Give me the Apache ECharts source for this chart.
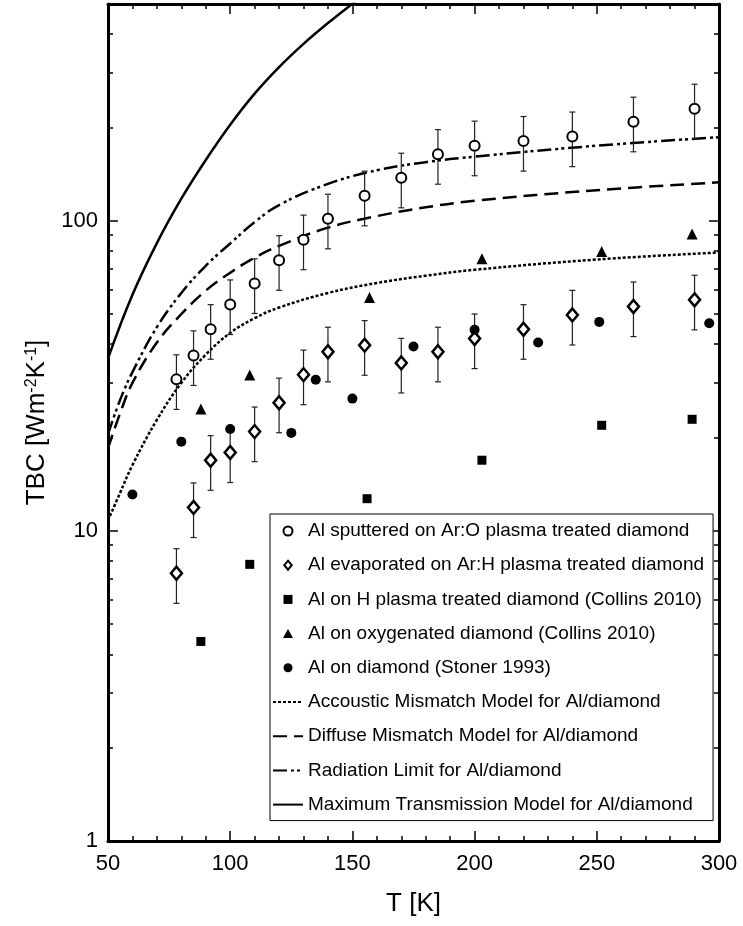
<!DOCTYPE html>
<html>
<head>
<meta charset="utf-8">
<script src="https://cdn.jsdelivr.net/npm/echarts@6/dist/echarts.min.js"></script>
<style>
  html, body { margin: 0; padding: 0; background: #fff; }
  #chart { width: 743px; height: 926px; }
</style>
</head>
<body>
<div id="chart"></div>
<script>
// measured points
const tSputtered = [78, 85, 92, 100, 110, 120, 130, 140, 155, 170, 185, 200, 220, 240, 265, 290];
const tbcSputtered = [30.8, 36.8, 44.7, 53.7, 62.8, 74.6, 86.9, 101.5, 120.4, 137.6, 164, 174.6, 180.7, 186.8, 208.6, 229.7];
const tEvaporated = [78, 85, 92, 100, 110, 120, 130, 140, 155, 170, 185, 200, 220, 240, 265, 290];
const tbcEvaporated = [7.3, 11.9, 16.9, 17.9, 20.9, 25.9, 31.9, 37.8, 39.7, 34.8, 37.8, 41.7, 44.7, 49.7, 52.9, 55.6];
const tHPlasma = [88, 108, 156, 203, 252, 289];
const tbcHPlasma = [4.4, 7.8, 12.7, 16.9, 21.9, 22.9];
const tOxygenated = [88, 108, 157, 203, 252, 289];
const tbcOxygenated = [24.7, 31.8, 56.6, 75.4, 79.6, 90.6];
const tStoner = [60, 80, 100, 125, 135, 150, 175, 200, 226, 251, 296];
const tbcStoner = [13.1, 19.4, 21.3, 20.7, 30.7, 26.7, 39.3, 44.5, 40.5, 47.2, 46.7];
const relErr = 0.2; // error bars are about +-20%

// model curves
const tModel = [50, 55, 60, 70, 80, 90, 100, 110, 120, 140, 160, 180, 200, 250, 300];
const amm = [10.8, 13.3, 16.3, 22.8, 30, 37, 43.5, 48.5, 52.5, 58.5, 63, 66.5, 69.5, 75, 79];
const dmm = [18.5, 24, 30, 40.5, 50, 59.5, 68, 76, 83, 95, 103.5, 110.5, 116, 125.5, 133];
const radLimit = [20.5, 26.5, 32.5, 45.4, 58.5, 71.6, 84.5, 99, 112.4, 131.5, 145.5, 154.5, 161, 174.6, 186];
const tMaxTrans = [50, 60, 70, 80, 90, 100, 110, 120, 130, 140, 150, 160];
const maxTrans = [36, 57.7, 84.7, 117.8, 157, 204, 257, 313, 372, 434, 501, 575];

// axis ticks
const xTicks = [50, 100, 150, 200, 250, 300];
const yMajor = [1, 10, 100];
const yMinor = [2, 3, 4, 5, 6, 7, 8, 9, 20, 30, 40, 50, 60, 70, 80, 90, 200, 300, 400];

const names = [
  "Al sputtered on Ar:O plasma treated diamond",
  "Al evaporated on Ar:H plasma treated diamond",
  "Al on H plasma treated diamond (Collins 2010)",
  "Al on oxygenated diamond (Collins 2010)",
  "Al on diamond (Stoner 1993)",
  "Accoustic Mismatch Model for Al/diamond",
  "Diffuse Mismatch Model for Al/diamond",
  "Radiation Limit for Al/diamond",
  "Maximum Transmission Model for Al/diamond",
];

// path icons keep their aspect inside the wide legend slot
const diamondPath = "path://M5,0L10,6L5,12L0,6Z";
const squarePath = "path://M0,0H10V10H0Z";
const trianglePath = "path://M5,0L10,9L0,9Z";

const font = "'Liberation Sans', Arial, sans-serif";
const zip = (xs, ys) => xs.map((x, i) => [x, ys[i]]);
const errData = (xs, ys) => xs.map((x, i) => [x, ys[i] * (1 - relErr), ys[i] * (1 + relErr)]);

const chart = echarts.init(document.getElementById("chart"));

// vertical error bar with caps
const errorBars = (data) => ({
  type: "custom",
  z: 3,
  silent: true,
  data: data,
  renderItem: (params, api) => {
    const x = api.value(0);
    const lo = api.coord([x, api.value(1)]);
    const hi = api.coord([x, api.value(2)]);
    const w = 3;
    const style = { stroke: "#222", lineWidth: 1.2 };
    return {
      type: "group",
      children: [
        { type: "line", shape: { x1: lo[0], y1: lo[1], x2: hi[0], y2: hi[1] }, style: style },
        { type: "line", shape: { x1: lo[0] - w, y1: lo[1], x2: lo[0] + w, y2: lo[1] }, style: style },
        { type: "line", shape: { x1: hi[0] - w, y1: hi[1], x2: hi[0] + w, y2: hi[1] }, style: style },
      ],
    };
  },
});

const modelLine = (name, xs, ys, type) => ({
  name: name,
  type: "line",
  z: 2,
  data: zip(xs, ys),
  smooth: 0.4,
  symbol: "none",
  clip: true,
  itemStyle: { color: "rgba(0,0,0,0)", borderWidth: 0 },
  lineStyle: { color: "#000", width: 2.5, type: type },
});

const scatter = (name, xs, ys, symbol, size, style) => ({
  name: name,
  type: "scatter",
  z: 4,
  data: zip(xs, ys),
  symbol: symbol,
  symbolSize: size,
  itemStyle: Object.assign({ opacity: 1 }, style),
});

const xAxisBase = {
  type: "value",
  min: 50,
  max: 300,
  interval: 50,
  splitLine: { show: false },
  axisLine: { show: true, onZero: false, lineStyle: { color: "#000", width: 3 } },
  axisTick: { inside: true, length: 10, lineStyle: { color: "#000", width: 1.5 } },
  minorTick: { show: true, splitNumber: 5, length: 5, lineStyle: { color: "#000", width: 1.5 } },
};

const yAxisBase = {
  type: "log",
  logBase: 10,
  min: 1,
  max: 500,
  splitLine: { show: false },
  minorSplitLine: { show: false },
};

chart.setOption({
  animation: false,
  backgroundColor: "#fff",
  textStyle: { fontFamily: font },
  grid: { left: 108, right: 24, top: 4, bottom: 85 },
  legend: {
    orient: "vertical",
    left: 270,
    top: 514,
    padding: [7, 9, 6, 2],
    itemGap: 14.2,
    itemWidth: 30,
    itemHeight: 9,
    symbolKeepAspect: true,
    borderColor: "#000",
    borderWidth: 1,
    backgroundColor: "#fff",
    textStyle: { fontSize: 19, color: "#000", fontFamily: font, lineHeight: 20 },
    data: [
      { name: names[0] },
      { name: names[1], icon: diamondPath },
      { name: names[2], icon: squarePath },
      { name: names[3], icon: trianglePath },
      { name: names[4] },
      { name: names[5] },
      { name: names[6] },
      { name: names[7] },
      { name: names[8] },
    ],
  },
  xAxis: [
    Object.assign({}, xAxisBase, {
      position: "bottom",
      axisLabel: { fontSize: 22, color: "#000", margin: 12, customValues: xTicks },
      name: "T [K]",
      nameLocation: "middle",
      nameGap: 50,
      nameTextStyle: { fontSize: 26, color: "#000" },
    }),
    Object.assign({}, xAxisBase, { position: "top", axisLabel: { show: false } }),
  ],
  yAxis: [
    Object.assign({}, yAxisBase, {
      position: "left",
      axisLine: { show: true, lineStyle: { color: "#000", width: 3 } },
      axisTick: { inside: true, length: 10, customValues: yMajor, lineStyle: { color: "#000", width: 1.5 } },
      axisLabel: { fontSize: 22, color: "#000", margin: 10, customValues: yMajor },
      name: "{m|TBC [Wm}{s|-2}{m|K}{s|-1}{m|]}",
      nameLocation: "middle",
      nameRotate: 90,
      nameGap: 58,
      nameTextStyle: {
        rich: {
          m: { fontSize: 26, color: "#000", fontFamily: font },
          s: { fontSize: 16, color: "#000", fontFamily: font, verticalAlign: "top" },
        },
      },
    }),
    Object.assign({}, yAxisBase, {
      position: "left",
      axisLine: { show: false },
      axisTick: { inside: true, length: 5, customValues: yMinor, lineStyle: { color: "#000", width: 1.5 } },
      axisLabel: { show: false },
    }),
    Object.assign({}, yAxisBase, {
      position: "right",
      axisLine: { show: true, lineStyle: { color: "#000", width: 3 } },
      axisTick: { inside: true, length: 10, customValues: yMajor, lineStyle: { color: "#000", width: 1.5 } },
      axisLabel: { show: false },
    }),
    Object.assign({}, yAxisBase, {
      position: "right",
      axisLine: { show: false },
      axisTick: { inside: true, length: 5, customValues: yMinor, lineStyle: { color: "#000", width: 1.5 } },
      axisLabel: { show: false },
    }),
  ],
  series: [
    modelLine(names[5], tModel, amm, [3, 2]),
    modelLine(names[6], tModel, dmm, [14, 7]),
    modelLine(names[7], tModel, radLimit, [14, 4, 3, 3, 3, 4]),
    modelLine(names[8], tMaxTrans, maxTrans, "solid"),
    errorBars(errData(tSputtered, tbcSputtered)),
    errorBars(errData(tEvaporated, tbcEvaporated)),
    scatter(names[0], tSputtered, tbcSputtered, "circle", 10, { color: "#fff", borderColor: "#000", borderWidth: 2 }),
    scatter(names[1], tEvaporated, tbcEvaporated, "diamond", [11, 13], { color: "#fff", borderColor: "#000", borderWidth: 2.5 }),
    scatter(names[2], tHPlasma, tbcHPlasma, "rect", 9, { color: "#000" }),
    scatter(names[3], tOxygenated, tbcOxygenated, "triangle", 11, { color: "#000" }),
    scatter(names[4], tStoner, tbcStoner, "circle", 10, { color: "#000" }),
  ],
});
</script>
</body>
</html>
